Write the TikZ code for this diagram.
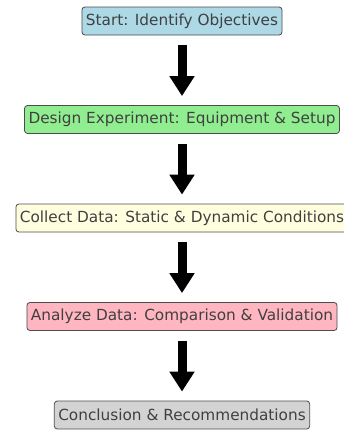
\documentclass[tikz,border=0pt]{standalone}
\usepackage{fontspec}
\setmainfont{DejaVu Sans}
\usetikzlibrary{arrows.meta}

\definecolor{startblue}{RGB}{173,216,230}
\definecolor{designgreen}{RGB}{144,238,144}
\definecolor{collectyellow}{RGB}{255,255,224}
\definecolor{analyzepink}{RGB}{255,182,193}
\definecolor{endgray}{RGB}{211,211,211}

\tikzstyle{block} = [rectangle, draw=black!70, line width=0.8pt, rounded corners=3pt,
text=black!75, font=\fontsize{15.3}{17}\selectfont, inner xsep=4pt, inner ysep=2pt, minimum height=28pt]
\tikzstyle{line} = [draw, line width=9pt, -{Triangle[width=24pt,length=20pt]},
shorten <=10pt, shorten >=9pt]

\begin{document}
\begin{tikzpicture}[node distance = 98.5pt, x=1pt, y=1pt]
\useasboundingbox (0,0) rectangle (344,-434);
\node [block, fill=startblue] (Start) at (182,-21) {Start: Identify Objectives};
\node [block, fill=designgreen, below of=Start] (Design) {Design Experiment: Equipment \& Setup};
\node [block, fill=collectyellow, below of=Design] (Collect) {Collect Data: Static \& Dynamic Conditions};
\node [block, fill=analyzepink, below of=Collect] (Analyze) {Analyze Data: Comparison \& Validation};
\node [block, fill=endgray, below of=Analyze] (Conclusion) {Conclusion \& Recommendations};

\path [line] (Start) -- (Design);
\path [line] (Design) -- (Collect);
\path [line] (Collect) -- (Analyze);
\path [line] (Analyze) -- (Conclusion);
\end{tikzpicture}
\end{document}
